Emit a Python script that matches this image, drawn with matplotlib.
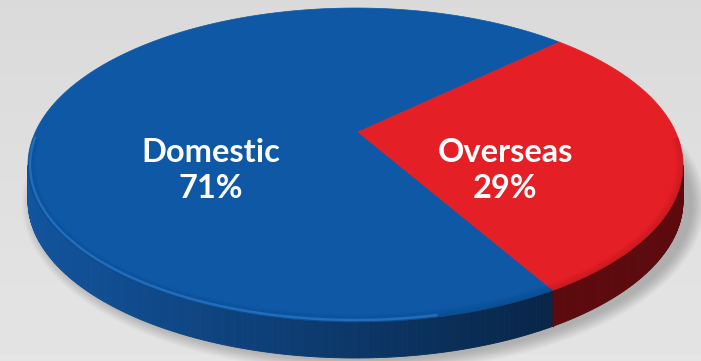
import numpy as np
import matplotlib.pyplot as plt
from matplotlib.patches import Polygon, Ellipse

# data
labels = ['Domestic', 'Overseas']
shares = [71, 29]

# look
top_colors = ['#0e58a6', '#e51f26']
side_left = [(0.07, 0.33, 0.62), (0.40, 0.05, 0.06)]
side_right = [(0.03, 0.14, 0.27), (0.36, 0.04, 0.05)]

W, H = 701, 361
cx, cy = 355.5, 165.0      # centre of the top ellipse
rx, ry = 327.5, 157.0
apex = (358.0, 132.0)      # projected pie centre (perspective)
depth = 36.0
start = 51.5               # degrees, counter-clockwise


def rim(t, dz=0.0, shrink=0.0):
    t = np.radians(t)
    return cx + (rx - shrink) * np.cos(t), cy - (ry - shrink) * np.sin(t) + dz


fig = plt.figure(figsize=(W / 100, H / 100), dpi=100)
ax = fig.add_axes([0, 0, 1, 1])
ax.set_xlim(0, W)
ax.set_ylim(H, 0)
ax.axis('off')

# background, light grey gradient
grad = np.linspace(0.855, 0.895, 100).reshape(-1, 1)
ax.imshow(grad, extent=[0, W, H, 0], cmap='gray', vmin=0, vmax=1, aspect='auto', zorder=0)

# soft shadow
for i in range(14):
    ax.add_patch(Ellipse((cx + 8, cy + depth + 3), 2 * (rx + 14 - i), 2 * (ry + 12 - i),
                         color='black', alpha=0.014, lw=0, zorder=1))

# wedge angle ranges
angles = []
a0 = start
for s in shares:
    a1 = a0 + s * 3.6
    angles.append((a0, a1))
    a0 = a1

# side walls (front half only: 180..360 degrees)
for k, (a0, a1) in enumerate(angles):
    for off in (0, 360, -360):
        lo, hi = max(a0 + off, 180), min(a1 + off, 360)
        if hi <= lo:
            continue
        ts = np.linspace(lo, hi, int((hi - lo) * 2) + 2)
        for t0, t1 in zip(ts[:-1], ts[1:]):
            x0, y0 = rim(t0)
            x1, y1 = rim(t1)
            f = np.clip((x0 - 28) / 540, 0, 1)
            c = tuple(np.array(side_left[k]) * (1 - f) + np.array(side_right[k]) * f)
            ax.add_patch(Polygon([(x0, y0), (x1, y1), (x1, y1 + depth), (x0, y0 + depth)],
                                 closed=True, fc=c, ec=c, lw=0.6, zorder=2))
        # straight edge where two wedges meet on the wall
        if lo > 180 and lo < 360:
            x, y = rim(lo)
            ax.plot([x, x], [y, y + depth], color=side_right[k], lw=1, zorder=3)

# top faces
for k, (a0, a1) in enumerate(angles):
    ts = np.linspace(a0, a1, 200)
    xs, ys = rim(ts)
    pts = [apex] + list(zip(xs, ys))
    ax.add_patch(Polygon(pts, closed=True, fc=top_colors[k], ec=top_colors[k], lw=0.5, zorder=4))

# bevel on the front rim: darkening band and a light edge on the blue part
for k, (a0, a1) in enumerate(angles):
    for off in (0, 360, -360):
        lo, hi = max(a0 + off, 170), min(a1 + off, 370)
        if hi <= lo:
            continue
        ts = np.linspace(lo, hi, 200)
        for j in range(8):
            xs, ys = rim(ts, shrink=j)
            ax.plot(xs, ys, color='black', alpha=0.07 * (8 - j) / 8, lw=1.2,
                    solid_capstyle='butt', zorder=5)
        if k == 0:
            ts2 = ts[ts < 285]
            xs, ys = rim(ts2, shrink=2)
            ax.plot(xs, ys, color='#3a8ae0', alpha=0.5, lw=1.8, zorder=6)

# labels
for k, (a0, a1) in enumerate(angles):
    mid = np.radians((a0 + a1) / 2)
    lx = apex[0] + 0.45 * rx * np.cos(mid)
    ax.text(lx, cy - 2.7, labels[k], color='white', fontsize=23.5, fontweight='bold',
            family='Lato', ha='center', va='baseline', zorder=7)
    ax.text(lx, cy + 33, f'{shares[k]}%', color='white', fontsize=23.5, fontweight='bold',
            family='Lato', ha='center', va='baseline', zorder=7)

fig.savefig('out.png', dpi=100)
